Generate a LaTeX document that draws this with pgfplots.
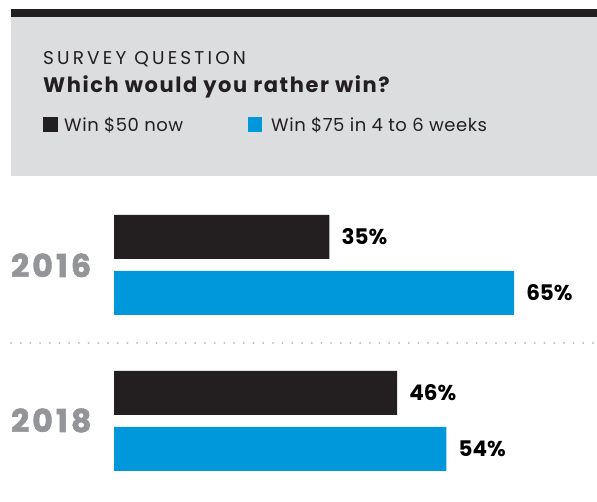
\documentclass[border=0pt]{standalone}
\usepackage{pgfplots}
\pgfplotsset{compat=1.18}
\usepackage{fontspec}
\setmainfont{Poppins}
\newfontfamily\spaced[LetterSpace=17]{Poppins}
\newfontfamily\titlef[LetterSpace=7.5]{Poppins}
\newfontfamily\legf[LetterSpace=3]{Poppins}
\newfontfamily\yearf[LetterSpace=10,FakeBold=2]{Poppins}
\definecolor{dark}{HTML}{231F20}
\definecolor{sblue}{HTML}{0098DA}
\definecolor{boxgray}{HTML}{DCDDDE}
\definecolor{yeargray}{HTML}{939598}
\definecolor{dotgray}{HTML}{BCBEC0}
\begin{document}
\begin{tikzpicture}[x=1pt,y=1pt]
\useasboundingbox (0,0) rectangle (597,502);
% header box
\fill[boxgray] (11,326) rectangle (597,485);
\fill[dark] (11,485) rectangle (597,493);
\node[anchor=base west,inner sep=0,text=dark,font=\fontsize{18.5}{20}\spaced] at (43,437) {SURVEY QUESTION};
\node[anchor=base west,inner sep=0,text=dark,font=\fontsize{21}{23}\titlef\bfseries] at (43,409) {Which would you rather win?};
\fill[dark] (43,370) rectangle (58,385);
\node[anchor=base west,inner sep=0,text=dark,font=\fontsize{18}{20}\legf] at (64,370) {Win \$50 now};
\fill[sblue] (248,370) rectangle (262,385);
\node[anchor=base west,inner sep=0,text=dark,font=\fontsize{18}{20}\legf] at (271,370) {Win \$75 in 4 to 6 weeks};
% separator
\draw[dotgray,line width=2.2pt,line cap=round,dash pattern=on 0pt off 9.7pt] (11,159) -- (597,159);
% years
\node[anchor=base west,inner sep=0,text=yeargray,font=\fontsize{31.5}{33}\yearf\bfseries] at (11,225) {2016};
\node[anchor=base west,inner sep=0,text=yeargray,font=\fontsize{31.5}{33}\yearf\bfseries] at (11,70) {2018};
\begin{axis}[
  at={(114pt,0pt)}, anchor=south west,
  scale only axis, width=461.6pt, height=502pt,
  xmin=0, xmax=75, ymin=0, ymax=502,
  axis lines=none, ticks=none, clip=false,
  xbar, bar width=44pt, bar shift=0pt,
  point meta=x,
  nodes near coords={\pgfmathprintnumber[assume math mode=true]{\pgfplotspointmeta}\%},
  nodes near coords style={anchor=west,inner sep=0pt,xshift=12pt,text=black,font=\fontsize{21.5}{23}\selectfont\bfseries},
]
\addplot[fill=dark,draw=none] coordinates {(35,265) (46,109)};
\addplot[fill=sblue,draw=none] coordinates {(65,209) (54,53)};
\end{axis}
\end{tikzpicture}
\end{document}
